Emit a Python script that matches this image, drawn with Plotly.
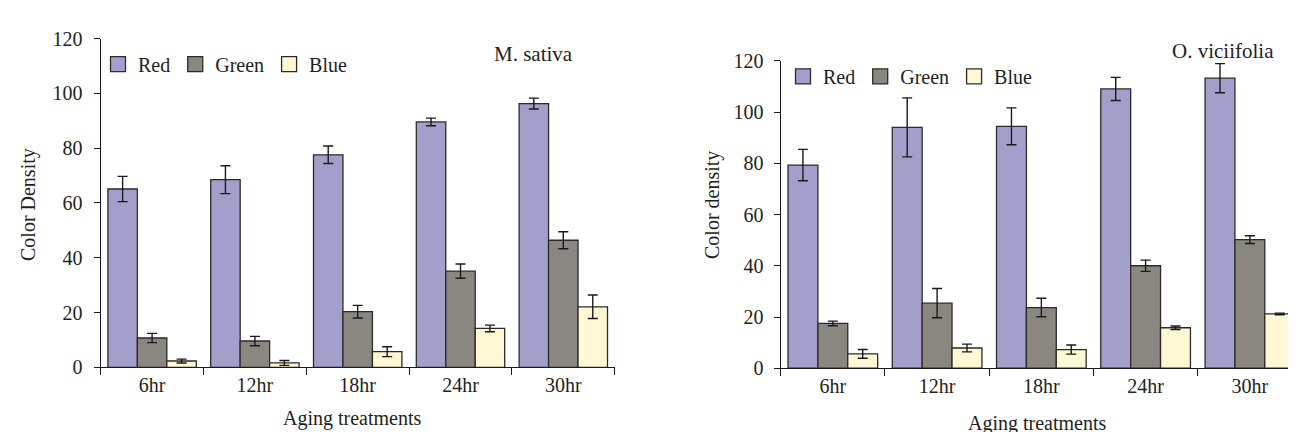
import plotly.graph_objects as go

categories = ["6hr", "12hr", "18hr", "24hr", "30hr"]
series_names = ["Red", "Green", "Blue"]

# M. sativa (left panel)
ms_red = [65.1, 68.5, 77.6, 89.6, 96.3]
ms_red_err = [4.6, 5.1, 3.2, 1.4, 2.0]
ms_green = [10.7, 9.6, 20.3, 35.1, 46.4]
ms_green_err = [1.7, 1.7, 2.3, 2.6, 3.1]
ms_blue = [2.3, 1.6, 5.7, 14.2, 22.1]
ms_blue_err = [0.7, 0.9, 1.8, 1.2, 4.3]

# O. viciifolia (right panel)
ov_red = [79.3, 94.0, 94.4, 109.0, 113.2]
ov_red_err = [6.1, 11.5, 7.2, 4.5, 5.7]
ov_green = [17.5, 25.4, 23.7, 40.0, 50.2]
ov_green_err = [0.9, 5.7, 3.6, 2.2, 1.5]
ov_blue = [5.6, 7.9, 7.3, 15.8, 21.2]
ov_blue_err = [1.7, 1.5, 1.8, 0.7, 0.3]

y_ticks = [0, 20, 40, 60, 80, 100, 120]

colors = {"Red": "#A29FCB", "Green": "#8A8781", "Blue": "#FFF8D5"}
FONT = "Liberation Serif"
TXT = "#231F20"
EDGE = "#2b2b2b"
FS = 20
W, H = 1296, 432

fig = go.Figure()

panels = [
    ("x", "y", "legend", [ms_red, ms_green, ms_blue], [ms_red_err, ms_green_err, ms_blue_err]),
    ("x2", "y2", "legend2", [ov_red, ov_green, ov_blue], [ov_red_err, ov_green_err, ov_blue_err]),
]
for xa, ya, lg, vals, errs in panels:
    for name, v, e in zip(series_names, vals, errs):
        fig.add_trace(go.Bar(
            x=categories, y=v, name=name, xaxis=xa, yaxis=ya, showlegend=False,
            marker=dict(color=colors[name], line=dict(color=EDGE, width=1.3)),
            error_y=dict(type="data", array=e, color="#1a1a1a", thickness=1.4, width=5),
        ))
    # legend entries (square swatches)
    for name in series_names:
        fig.add_trace(go.Scatter(
            x=[None], y=[None], xaxis=xa, yaxis=ya, legend=lg, name=name, mode="markers",
            marker=dict(symbol="square", size=15, color=colors[name],
                        line=dict(color=EDGE, width=1.3)),
            showlegend=True, hoverinfo="skip",
        ))

def px_x(p):
    return p / W

def px_y(p):
    return (H - p) / H

axis_common = dict(showline=True, linecolor="#1a1a1a", linewidth=1.3, showgrid=False,
                   zeroline=False, ticks="outside", tickcolor="#1a1a1a", ticklen=6, tickwidth=1.3,
                   tickfont=dict(family=FONT, size=FS, color=TXT))

legend_common = dict(orientation="h", xanchor="left", yanchor="middle",
                     bgcolor="rgba(0,0,0,0)", font=dict(family=FONT, size=FS, color=TXT),
                     itemwidth=30, tracegroupgap=0, itemsizing="trace")

def ann(text, x, y, size=FS, angle=0):
    return dict(text=text, x=px_x(x), y=px_y(y), xref="paper", yref="paper",
                xanchor="center", yanchor="middle", showarrow=False, textangle=angle,
                font=dict(family=FONT, size=size, color=TXT))

fig.update_layout(
    width=W, height=H, margin=dict(l=0, r=0, t=0, b=0),
    paper_bgcolor="white", plot_bgcolor="white",
    barmode="group", bargap=0.14, bargroupgap=0,
    showlegend=True,
    font=dict(family=FONT, color=TXT, size=FS),
    xaxis=dict(axis_common, type="category", tickson="boundaries", ticklen=7,
               domain=[px_x(92.7), px_x(606.7)], anchor="y", range=[-0.5, 4.5]),
    yaxis=dict(axis_common, domain=[px_y(367), px_y(20.7)], range=[0, 120],
               tickvals=y_ticks, anchor="x", ticklabelstandoff=7),
    xaxis2=dict(axis_common, type="category", tickson="boundaries", ticklen=7,
                domain=[px_x(772.7), px_x(1294)], anchor="y2", range=[-0.5, 4.5]),
    yaxis2=dict(axis_common, domain=[px_y(368), px_y(44)], range=[0, 120],
                tickvals=y_ticks, anchor="x2", ticklabelstandoff=6),
    legend=dict(legend_common, x=px_x(90), y=px_y(47.5)),
    legend2=dict(legend_common, x=px_x(775), y=px_y(60.5)),
    annotations=[
        ann("M. sativa", 525, 37, size=21),
        ann("O. viciifolia", 1215, 34, size=21),
        ann("Color Density", 20, 196, angle=-90),
        ann("Color density", 704, 196, angle=-90),
        ann("Aging treatments", 344, 421),
        ann("Aging treatments", 1029, 426),
    ],
)

fig.write_html("out.html")
